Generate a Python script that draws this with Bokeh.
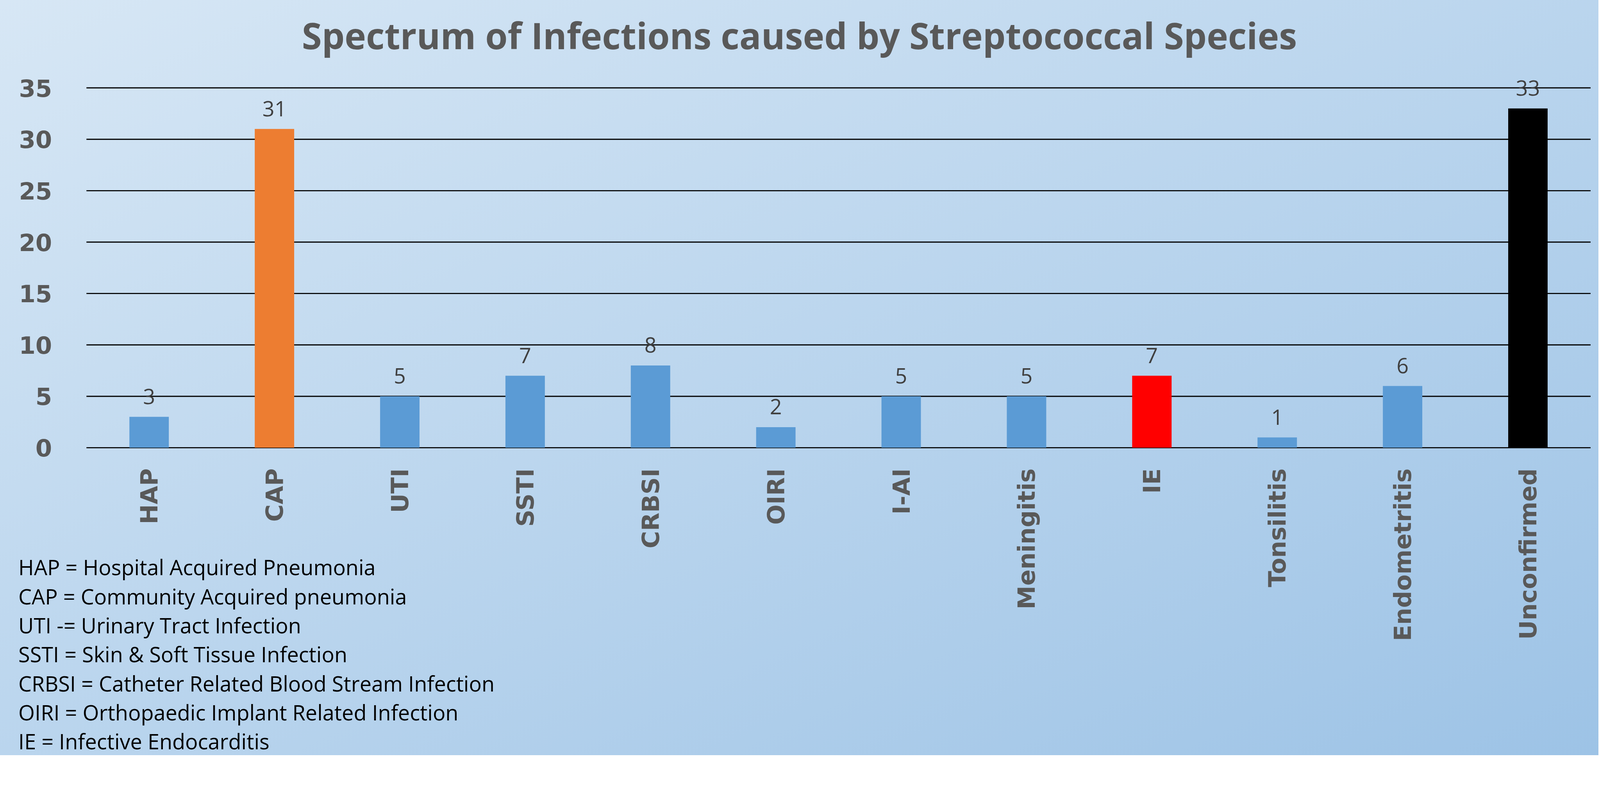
import math
from bokeh.plotting import figure
from bokeh.models import ColumnDataSource, FixedTicker, Label, Range1d
from bokeh.core.properties import value
from bokeh.embed import file_html
from bokeh.resources import INLINE

# ---- data ----
categories = ["HAP", "CAP", "UTI", "SSTI", "CRBSI", "OIRI", "I-AI",
              "Meningitis", "IE", "Tonsilitis", "Endometritis", "Unconfirmed"]
counts = [3, 31, 5, 7, 8, 2, 5, 5, 7, 1, 6, 33]
bar_colors = ["#5b9bd5", "#ed7d31", "#5b9bd5", "#5b9bd5", "#5b9bd5", "#5b9bd5",
              "#5b9bd5", "#5b9bd5", "#ff0000", "#5b9bd5", "#5b9bd5", "#000000"]
y_ticks = [0, 5, 10, 15, 20, 25, 30, 35]
legend_lines = [
    "HAP = Hospital Acquired Pneumonia",
    "CAP = Community Acquired pneumonia",
    "UTI -= Urinary Tract Infection",
    "SSTI = Skin & Soft Tissue Infection",
    "CRBSI = Catheter Related Blood Stream Infection",
    "OIRI = Orthopaedic Implant Related Infection",
    "IE = Infective Endocarditis",
]
title_text = "Spectrum of Infections caused by Streptococcal Species"

# ---- layout (css px) ----
W, H = 4092, 1934
TOP = 152                              # frame top (title sits above)
CAT_LEFT, CAT_RIGHT = 220.8, 4071.4    # pixel span of the category band
ZERO_PX, PX_PER_UNIT = 1146.1, 26.33   # pixel row of value 0, pixels per unit
KEY_X, KEY_Y0, KEY_STEP = 46.6, 1451.8, 74.3

n = len(categories)
cat_w = (CAT_RIGHT - CAT_LEFT) / n
x_lo = -CAT_LEFT / cat_w
x_hi = n + (W - CAT_RIGHT) / cat_w
y_hi = (ZERO_PX - TOP) / PX_PER_UNIT
y_lo = (ZERO_PX - H) / PX_PER_UNIT

xs = [i + 0.5 for i in range(n)]
source = ColumnDataSource(dict(x=xs, val=counts, color=bar_colors,
                               lab=[str(v) for v in counts]))

p = figure(width=W, height=H, x_range=Range1d(x_lo, x_hi), y_range=Range1d(y_lo, y_hi),
           output_backend="svg", toolbar_location=None, title=title_text,
           min_border=0, min_border_left=0, min_border_right=0,
           min_border_top=TOP, min_border_bottom=0)

p.background_fill_alpha = 0
p.border_fill_alpha = 0
p.outline_line_color = None
p.styles = {"background": "linear-gradient(to bottom right, #d7e7f5, #9dc3e6)"}

# title
p.title.align = "center"
p.title.offset = 58
p.title.standoff = 0
p.title.text_font = "Open Sans"
p.title.text_font_size = "92.5px"
p.title.text_font_style = "bold"
p.title.text_color = "#595959"

# horizontal gridlines spanning the category band
p.segment(x0=0, x1=n, y0=y_ticks, y1=y_ticks, line_color="black", line_width=2.9)

p.vbar(x="x", top="val", width=0.3145, fill_color="color", line_color=None, source=source)

p.text(x="x", y="val", text="lab", source=source, y_offset=-52,
       text_align="center", text_baseline="alphabetic",
       text_font=value("Open Sans"), text_font_size="54px", text_color="#404040")

# axes, pinned to the value-0 row and to the start of the category band
p.xgrid.visible = False
p.ygrid.visible = False
p.xaxis.fixed_location = 0
p.yaxis.fixed_location = 0
p.xaxis.ticker = FixedTicker(ticks=xs)
p.xaxis.major_label_overrides = {x: c for x, c in zip(xs, categories)}
p.yaxis.ticker = FixedTicker(ticks=y_ticks)
for ax in (p.xaxis[0], p.yaxis[0]):
    ax.axis_line_color = None
    ax.major_tick_line_color = None
    ax.minor_tick_line_color = None
    ax.major_tick_out = 0
    ax.major_tick_in = 0
    ax.minor_tick_out = 0
    ax.minor_tick_in = 0
    ax.major_label_text_font = "DejaVu Sans"
    ax.major_label_text_font_style = "bold"
    ax.major_label_text_font_size = "61px"
    ax.major_label_text_color = "#595959"
p.yaxis.major_label_standoff = 88
p.xaxis.major_label_standoff = 53
p.xaxis.major_label_orientation = math.pi / 2

# abbreviation key in the lower-left corner
for i, line in enumerate(legend_lines):
    p.add_layout(Label(x=KEY_X, y=H - (KEY_Y0 + i * KEY_STEP), x_units="screen", y_units="screen",
                       text=line, text_font="Open Sans", text_font_size="54px",
                       text_color="black", text_baseline="alphabetic"))

open("out.html", "w").write(file_html(p, INLINE))
